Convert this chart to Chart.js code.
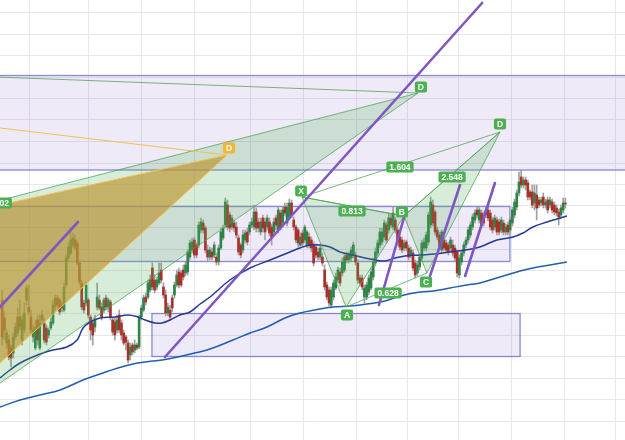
<!DOCTYPE html>
<html>
<head>
<meta charset="utf-8">
<script src="https://cdn.jsdelivr.net/npm/chart.js@4.4.1/dist/chart.umd.min.js"></script>
<style>
  html, body { margin: 0; padding: 0; background: #fff; }
  #wrap { width: 625px; height: 440px; }
</style>
</head>
<body>
<div id="wrap"><canvas id="chart" width="625" height="440"></canvas></div>
<script>
// candles, one entry per bar (bar index = position in array)
const opens = [
  140,122,97,100,93,87,103,107,123,100, 110,140,133,123,103,92,120,92,120,117,
  112,105,112,117,133,142,140,135,130,155, 182,187,195,200,197,177,157,137,137,140,
  123,117,113,133,140,133,130,142,133,138, 120,118,110,125,117,107,103,97,85,95,
  90,95,93,123,130,143,143,150,172,160, 153,157,170,153,145,127,130,142,145,155,
  168,167,170,167,168,183,190,200,195,195, 210,217,212,
  190,183,188,185,183,178,192,202,
  215,235,225,213,217,213,202,195,190,200, 208,208,215,213,228,218,208,222,218,213,
  218,213,208,222,210,227,217,233,217,223, 237,220,213,210,195,207,200,195,203,200,
  195,193,188,183,183,170,155,150,135,143, 152,160,168,167,170,185,180,182,185,185,
  177,162,162,143,143,148,152,163,177,187, 195,198,203,215,210,222,213,220,210,203,
  200,192,198,192,185,187,177,167,173,182, 192,192,198,215,235,228,210,205,190,200,
  197,195,192,195,192,188,165,178,187,195, 200,205,213,220,230,220,227,225,225,230,
  227,220,213,220,218,210,217,208,215,210, 217,225,233,247,263,255,260,257,248,248,
  237,245,240,237,243,235,240,235,238,235, 232,228,225,230,237
];
const closes = [
  103,110,107,83,82,103,113,123,113,120, 127,152,128,110,110,113,100,117,125,100,
  98,110,118,135,142,135,128,132,153,182, 193,200,202,193,177,158,133,130,155,125,
  110,105,120,143,132,123,140,133,140,123, 108,105,120,110,105,97,98,80,93,88,
  95,92,123,132,142,138,157,160,153,150, 160,167,160,145,127,133,123,132,155,165,
  155,155,163,175,188,197,198,185,185,215, 218,210,190,
  183,190,183,195,178,192,208,212,
  238,213,212,222,212,205,188,185,205,207, 198,215,218,228,212,212,218,212,208,222,
  207,202,218,215,230,213,230,227,233,237, 225,213,200,197,203,197,213,208,195,192,
  177,185,183,192,177,153,143,137,150,157, 163,170,157,178,183,180,185,190,195,178,
  160,157,153,152,155,162,168,178,188,197, 208,208,217,200,222,215,227,210,198,193,
  190,197,192,183,190,172,165,175,183,197, 198,205,225,238,217,208,203,193,208,192,
  190,188,200,187,182,167,182,187,195,200, 210,215,223,227,225,230,215,217,230,222,
  213,210,222,208,208,220,208,213,208,220, 230,238,247,258,255,260,255,243,243,235,
  247,232,235,240,235,238,230,240,230,228, 227,223,232,237,236
];
const highs = [
  150,128,110,105,95,107,117,132,140,125, 137,155,155,130,115,120,125,125,130,122,
  115,112,122,140,145,145,142,138,157,185, 197,213,207,205,200,180,160,140,158,142,
  125,120,125,157,145,137,142,145,142,140, 122,122,125,130,120,110,105,100,97,97,
  100,97,125,135,145,147,160,165,177,165, 163,177,177,157,150,137,135,145,158,170,
  172,170,175,178,190,200,202,203,197,218, 222,220,214,
  195,193,192,198,187,195,212,215,
  242,240,228,225,220,218,205,197,210,210, 212,218,222,235,232,222,222,225,222,225,
  222,216,222,225,233,230,233,237,237,241, 240,223,215,212,207,210,215,210,207,203,
  198,196,192,195,187,175,158,153,153,160, 167,173,172,182,187,188,188,193,198,188,
  180,165,165,155,158,165,172,182,192,200, 212,212,220,218,226,226,233,223,213,206,
  203,200,200,195,193,190,180,178,186,200, 202,208,228,243,240,230,213,208,210,203,
  200,198,203,200,195,190,185,190,198,203, 213,218,226,230,233,233,230,228,233,233,
  230,223,225,223,221,223,220,216,218,223, 233,241,250,268,270,263,263,260,250,255,
  255,255,243,243,247,241,243,243,241,238, 235,231,235,242,242
];
const lows = [
  95,100,92,80,73,82,100,104,110,95, 107,135,125,107,98,90,95,90,115,97,
  95,102,110,115,130,132,125,128,128,153, 180,185,192,190,175,155,130,127,134,122,
  100,95,108,130,130,120,127,130,128,120, 105,100,107,107,100,95,90,77,80,85,
  87,90,91,120,128,135,141,148,150,147, 150,155,157,142,124,124,120,128,142,153,
  152,153,160,164,165,180,187,182,182,192, 207,207,187,
  178,180,180,182,175,175,190,200,
  212,210,208,210,208,202,185,182,187,197, 195,205,212,210,208,208,205,208,200,210,
  204,195,205,210,207,210,214,224,214,220, 222,210,197,193,192,194,197,192,192,188,
  174,182,180,180,174,150,140,134,132,140, 150,157,154,164,168,177,177,179,182,175,
  157,154,150,137,140,145,150,160,174,184, 192,195,200,197,207,212,210,207,195,190,
  187,189,189,180,182,169,162,164,170,179, 189,189,195,212,214,205,200,190,187,189,
  187,185,189,184,179,163,162,175,184,192, 197,202,210,217,222,217,212,214,222,219,
  210,207,210,205,205,207,205,205,205,207, 214,222,230,244,252,252,250,240,240,232,
  230,220,232,234,232,232,227,232,227,225, 224,215,222,227,232
];

// moving averages [bar, price]
const maFast = [
  [-1,62],[3.5,70],[8.1,77],[13.9,83],[18.5,87],[23,90],[29.3,93],[33.9,100],[36.6,112],[39.8,118],
  [44.3,122],[51.1,123],[57,125],[61.5,123],[64.7,120],[69.2,117],[72.4,117],[76,120],[80.5,125],[85,128],
  [89.6,136],[94.1,143],[103.1,160],[112.2,172],[121.3,180],[130.3,188],[134.8,192],[139.4,195],[143.9,195],[148.4,193],
  [153,188],[158.4,185],[164.3,182],[168.8,180],[173.3,179],[177.9,182],[182.4,184],[189.2,185],[196,186],[202.8,188],
  [209.6,190],[216.3,193],[224,200],[231.3,203],[235.8,207],[240.3,213],[246.7,218],[251.2,221],[255.7,224]
];
const maSlow = [
  [-1,33],[8.1,40],[17.1,45],[26.2,50],[36.6,60],[44.3,66],[52.4,72],[59.2,76],[64.7,78],[72.4,80],
  [79.6,83],[87.3,87],[94.1,91],[104.5,100],[112.2,107],[119.9,113],[128,122],[134.8,127],[141.6,130],[149.8,133],
  [157.5,134],[165.2,136],[173.3,139],[180.1,144],[189.2,148],[195.1,149],[202.8,152],[210.5,155],[216.3,157],[225.4,163],
  [234.5,169],[240.3,172],[248,175],[255.7,178]
];

// time grid (bar positions) and price grid
const timeGrid = [25.7, 52, 73.7, 100.4, 124.9, 148, 172.4, 194.6, 218.2, 243.1, 266.2];
const priceGrid = [427.5, 406, 384.5, 363, 341.5, 320, 298.5, 277, 255.5, 234, 212.5, 191, 169.5, 148, 126.5, 105, 83.5, 62, 40.5, 19];

// rectangles: [fromBar, toBar, topPrice, bottomPrice]
const zones = [
  [-5, 290, 364.5, 270],
  [-5, 229.9, 233.5, 178.5],
  [67.8, 234.5, 126.5, 83.5]
];

// harmonic patterns
const bigPattern = { top: [-14.6, 232], d: [188.3, 347], bottom: [-14.6, 36], xd: [-14.6, 364] };
const goldPattern = { top: [-14.6, 228.4], d: [101.8, 285], bottom: [-14.6, 49.5], xd: [-14.6, 315.6] };
const ptX = [135.7, 243], ptA = [155.7, 133], ptB = [181.9, 224], ptC = [192.3, 167], ptD = [225.4, 308];

// trend lines
const trendLines = [
  [[-1, 133], [34.3, 218]],
  [[73.7, 83], [217.3, 437]],
  [[170.6, 135], [182.8, 229]],
  [[193.7, 164], [207.3, 255]],
  [[209.6, 164], [223.1, 257]]
];

// text tags: [bar, price, text, kind]
const tags = [
  [-1.8, 237, '1.602', 'g'],
  [158.4, 229, '0.813', 'g'],
  [174.7, 147, '0.628', 'g'],
  [203.7, 263, '2.548', 'g'],
  [180.1, 273, '1.604', 'g'],
  [135.3, 249, 'X', 'g'],
  [156.1, 125, 'A', 'g'],
  [181.0, 228, 'B', 'g'],
  [191.9, 158, 'C', 'g'],
  [225.4, 316, 'D', 'g'],
  [189.6, 353, 'D', 'g'],
  [102.7, 292, 'D', 'o']
];

const wickData = lows.map((l, i) => ({ x: i, y: [l, highs[i]] }));
const bodyData = opens.map((o, i) => ({ x: i, y: [o, closes[i]] }));
const bodyColors = opens.map((o, i) => closes[i] >= o ? '#2e8446' : '#aa3129');

const drawings = {
  id: 'drawings',
  beforeDatasetsDraw(chart) {
    const { ctx, chartArea, scales: { x, y } } = chart;
    ctx.save();
    ctx.beginPath();
    ctx.rect(chartArea.left, chartArea.top, chartArea.width, chartArea.height);
    ctx.clip();
    zones.forEach(z => {
      const l = x.getPixelForValue(z[0]), r = x.getPixelForValue(z[1]);
      const t = y.getPixelForValue(z[2]), b = y.getPixelForValue(z[3]);
      ctx.fillStyle = 'rgba(149,117,205,0.15)';
      ctx.fillRect(l, t, r - l, b - t);
      ctx.strokeStyle = 'rgba(110,112,200,0.8)';
      ctx.lineWidth = 1.3;
      ctx.strokeRect(l, t, r - l, b - t);
    });
    ctx.restore();
  },
  afterDatasetsDraw(chart) {
    const { ctx, chartArea, scales: { x, y } } = chart;
    const pt = p => [x.getPixelForValue(p[0]), y.getPixelForValue(p[1])];
    const path = pts => {
      ctx.beginPath();
      pts.forEach((p, i) => {
        const [a, b] = pt(p);
        if (i) ctx.lineTo(a, b); else ctx.moveTo(a, b);
      });
    };
    const poly = (pts, fill, stroke) => {
      path(pts);
      ctx.closePath();
      ctx.fillStyle = fill;
      ctx.fill();
      ctx.strokeStyle = stroke;
      ctx.lineWidth = 1;
      ctx.stroke();
    };
    const line = (pts, color, w) => {
      path(pts);
      ctx.strokeStyle = color;
      ctx.lineWidth = w;
      ctx.stroke();
    };

    ctx.save();
    ctx.beginPath();
    ctx.rect(chartArea.left, chartArea.top, chartArea.width, chartArea.height);
    ctx.clip();

    const green = 'rgba(76,175,80,0.22)', greenLine = 'rgba(76,160,80,0.75)';
    poly([bigPattern.top, bigPattern.d, bigPattern.bottom], green, greenLine);
    line([bigPattern.xd, bigPattern.d], greenLine, 1);

    poly([goldPattern.top, goldPattern.d, goldPattern.bottom], 'rgba(186,150,52,0.68)', '#f2c14e');
    line([goldPattern.xd, goldPattern.d], '#f2c14e', 1);

    poly([ptX, ptA, ptB], green, greenLine);
    poly([ptB, ptC, ptD], green, greenLine);
    line([ptX, ptB], greenLine, 1);
    line([ptA, ptC], greenLine, 1);
    line([ptB, ptD], greenLine, 1);
    line([ptX, ptD], greenLine, 1);

    ctx.lineCap = 'round';
    trendLines.forEach(t => line(t, '#7e57c2', 2.6));
    ctx.lineCap = 'butt';

    ctx.font = 'bold 8.5px "Liberation Sans", Arial, sans-serif';
    ctx.textAlign = 'center';
    ctx.textBaseline = 'middle';
    tags.forEach(([bx, py, text, kind]) => {
      const [cx, cy] = pt([bx, py]);
      const w = Math.max(10, ctx.measureText(text).width + 6), h = 11;
      ctx.fillStyle = kind === 'o' ? '#f3b632' : '#4caf50';
      ctx.beginPath();
      if (ctx.roundRect) ctx.roundRect(cx - w / 2, cy - h / 2, w, h, 2);
      else ctx.rect(cx - w / 2, cy - h / 2, w, h);
      ctx.fill();
      ctx.fillStyle = '#ffffff';
      ctx.fillText(text, cx, cy + 0.5);
    });
    ctx.restore();
  }
};

new Chart(document.getElementById('chart'), {
  type: 'bar',
  data: {
    datasets: [
      { type: 'line', data: maFast.map(p => ({ x: p[0], y: p[1] })), borderColor: '#243a96', borderWidth: 1.5,
        pointRadius: 0, tension: 0.4, fill: false, order: 1 },
      { type: 'line', data: maSlow.map(p => ({ x: p[0], y: p[1] })), borderColor: '#1f5fae', borderWidth: 1.5,
        pointRadius: 0, tension: 0.4, fill: false, order: 2 },
      { data: bodyData, backgroundColor: bodyColors, barThickness: 2, grouped: false, order: 3 },
      { data: wickData, backgroundColor: '#a0a0a0', barThickness: 1, grouped: false, order: 4 }
    ]
  },
  options: {
    responsive: false,
    animation: false,
    layout: { padding: 0 },
    plugins: { legend: { display: false }, tooltip: { enabled: false } },
    scales: {
      x: {
        type: 'linear', min: -1, max: 282, offset: false,
        ticks: { display: false },
        border: { display: false },
        grid: { color: '#e6e6ec', drawTicks: false },
        afterBuildTicks: s => { s.ticks = timeGrid.map(v => ({ value: v })); }
      },
      y: {
        min: 0, max: 440,
        ticks: { display: false },
        border: { display: false },
        grid: { color: '#e6e6ec', drawTicks: false },
        afterBuildTicks: s => { s.ticks = priceGrid.map(v => ({ value: v })); }
      }
    }
  },
  plugins: [drawings]
});
</script>
</body>
</html>
